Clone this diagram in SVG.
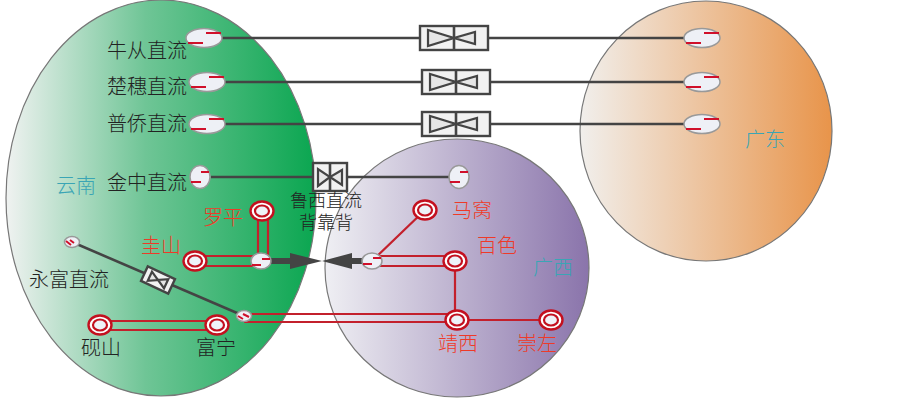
<svg xmlns="http://www.w3.org/2000/svg" xmlns:xlink="http://www.w3.org/1999/xlink" width="903" height="400" viewBox="0 0 903 400">
<style>
text{font-family:"Noto Sans CJK SC","Liberation Sans",sans-serif;font-size:20px;font-weight:300;text-anchor:middle}
.k{fill:#222}.r{fill:#ee3a28}.t{fill:#3aa5b5}
.sm{font-size:18px}
.region{stroke:#777;stroke-width:1.2}
.dc{stroke:#444;stroke-width:2.6;fill:none}
.ac{stroke:#c3202c;stroke-width:2.2;fill:none}
.conv{fill:#eef0f6;stroke:#999;stroke-width:1.5}
.tick{stroke:#d0102a;stroke-width:2;fill:none}
.ring{fill:#fff;stroke:#c3101f;stroke-width:2.4}
.ring2{fill:#eef2f8;stroke:#c3101f;stroke-width:2.2}
.vb{fill:#f2f2f2;stroke:#444;stroke-width:2.4}
.vt{fill:#e6e6e6;stroke:#444;stroke-width:2.2}
</style>
<defs>
<linearGradient id="gy"><stop offset="0" stop-color="#f0f2f1"/><stop offset=".45" stop-color="#6fc596"/><stop offset="1" stop-color="#0aa650"/></linearGradient>
<linearGradient id="gx"><stop offset="0" stop-color="#efeff3"/><stop offset="1" stop-color="#8a74ab"/></linearGradient>
<linearGradient id="gd"><stop offset="0" stop-color="#f1efec"/><stop offset="1" stop-color="#e8944a"/></linearGradient>
<g id="conv"><ellipse class="conv" cx="0" cy="0" rx="18" ry="9.5"/><path class="tick" d="M2-5H17M-16 5H-1"/></g>
<g id="convS"><ellipse class="conv" cx="0" cy="0" rx="10" ry="11.5"/><path class="tick" d="M1-5H9M-9 5H1"/></g>
<g id="ring"><ellipse class="ring" cx="0" cy="0" rx="11.5" ry="9.5"/><ellipse class="ring2" cx="0" cy="0" rx="7" ry="5.5"/></g>
<g id="valve"><rect class="vb" x="-34" y="-12" width="68" height="24"/><path class="dc" d="M0-12V12"/><path class="vt" d="M-26-8V8L0 0ZM21-6V6L0 0Z"/></g>
</defs>
<g id="regions">
<g id="yunnan"><ellipse class="region" cx="161" cy="198" rx="155" ry="198" fill="url(#gy)"/><text class="t" x="76" y="193">云南</text></g>
<g id="guangxi"><ellipse class="region" cx="457" cy="268" rx="132" ry="129" fill="url(#gx)"/><text class="t" x="553" y="275">广西</text></g>
<g id="guangdong"><ellipse class="region" cx="706" cy="131" rx="126" ry="130" fill="url(#gd)"/><text class="t" x="765" y="147">广东</text></g>
</g>
<g id="connectors">
<path class="dc" d="M222 38H420M488 38H684M222 82H422M490 82H684M222 124H422M490 124H684M211 177H312M348 177H450"/>
<path class="dc" d="M72 242L244 316"/>
<path class="ac" d="M196 256H261M196 266H261M258 212V262M268 212V262"/>
<path class="ac" d="M100 321H217M100 330H217"/>
<path class="ac" d="M372 256H455M372 266H455M372 261L425 210M455 262V320M244 314H457M244 322H457M457 320H551"/>
<path fill="#444" d="M270 258H290V253L322 261L290 269V264H270Z"/>
<path fill="#444" d="M372 258H352V253L322 261L352 269V264H372Z"/>
</g>
<g id="n-niucong"><use href="#conv" x="204" y="38"/><text class="k" x="147" y="58">牛从直流</text></g>
<g id="n-chusui"><use href="#conv" x="207" y="82"/><text class="k" x="147" y="94">楚穗直流</text></g>
<g id="n-puqiao"><use href="#conv" x="207" y="124"/><text class="k" x="147" y="131">普侨直流</text></g>
<g id="n-jinzhong"><use href="#convS" x="200" y="177"/><text class="k" x="147" y="190">金中直流</text></g>
<g id="v-niucong"><use href="#valve" x="454" y="38"/></g>
<g id="v-chusui"><use href="#valve" x="456" y="82"/></g>
<g id="v-puqiao"><use href="#valve" x="456" y="124"/></g>
<g id="v-luxi"><rect class="vb" x="313" y="163" width="34" height="28"/><path class="dc" d="M330 163V191"/><path class="vt" d="M318 169V186L330 177ZM342 170V185L330 177Z"/></g>
<g id="luxi-label"><text class="k sm" x="326" y="207">鲁西直流</text><text class="k sm" x="326" y="229">背靠背</text></g>
<g id="gd1"><use href="#conv" x="702" y="38"/></g>
<g id="gd2"><use href="#conv" x="702" y="82"/></g>
<g id="gd3"><use href="#conv" x="702" y="124"/></g>
<g id="gx-jz"><use href="#convS" x="459" y="177"/></g>
<g id="yongfu"><ellipse class="conv" cx="72" cy="242" rx="7.5" ry="5.5"/><path class="tick" d="M70 240L74 243M66 241L71 245"/><text class="k" x="69" y="287">永富直流</text></g>
<g id="v-yongfu" transform="translate(158 280) rotate(25)"><rect class="vb" x="-15" y="-8" width="30" height="16"/><path class="vt" d="M-9-5V5L0 0ZM9-5V5L0 0Z"/></g>
<g id="luoping"><use href="#ring" x="262" y="211"/><text class="r" x="223" y="225">罗平</text></g>
<g id="guishan"><use href="#ring" x="195" y="261"/><text class="r" x="161" y="253">圭山</text></g>
<g id="gs-conv"><ellipse class="conv" cx="261" cy="261" rx="10" ry="8"/><path class="tick" d="M262 259H270M252 265H261"/></g>
<g id="gx-conv"><ellipse class="conv" cx="372" cy="261" rx="10" ry="8"/><path class="tick" d="M373 258H381M363 264H372"/></g>
<g id="yanshan"><use href="#ring" x="100" y="325"/><text class="k" x="101" y="355">砚山</text></g>
<g id="funing"><use href="#ring" x="217" y="325"/><text class="k" x="216" y="355">富宁</text></g>
<g id="fn-conv"><ellipse class="conv" cx="244" cy="316" rx="7.5" ry="5.5"/><path class="tick" d="M243 314L249 317M238 316L243 319"/></g>
<g id="mawo"><use href="#ring" x="425" y="210"/><text class="r" x="472" y="218">马窝</text></g>
<g id="baise"><use href="#ring" x="455" y="261"/><text class="r" x="497" y="253">百色</text></g>
<g id="jingxi"><use href="#ring" x="457" y="320"/><text class="r" x="458" y="351">靖西</text></g>
<g id="chongzuo"><use href="#ring" x="551" y="320"/><text class="r" x="537" y="351">崇左</text></g>
</svg>
